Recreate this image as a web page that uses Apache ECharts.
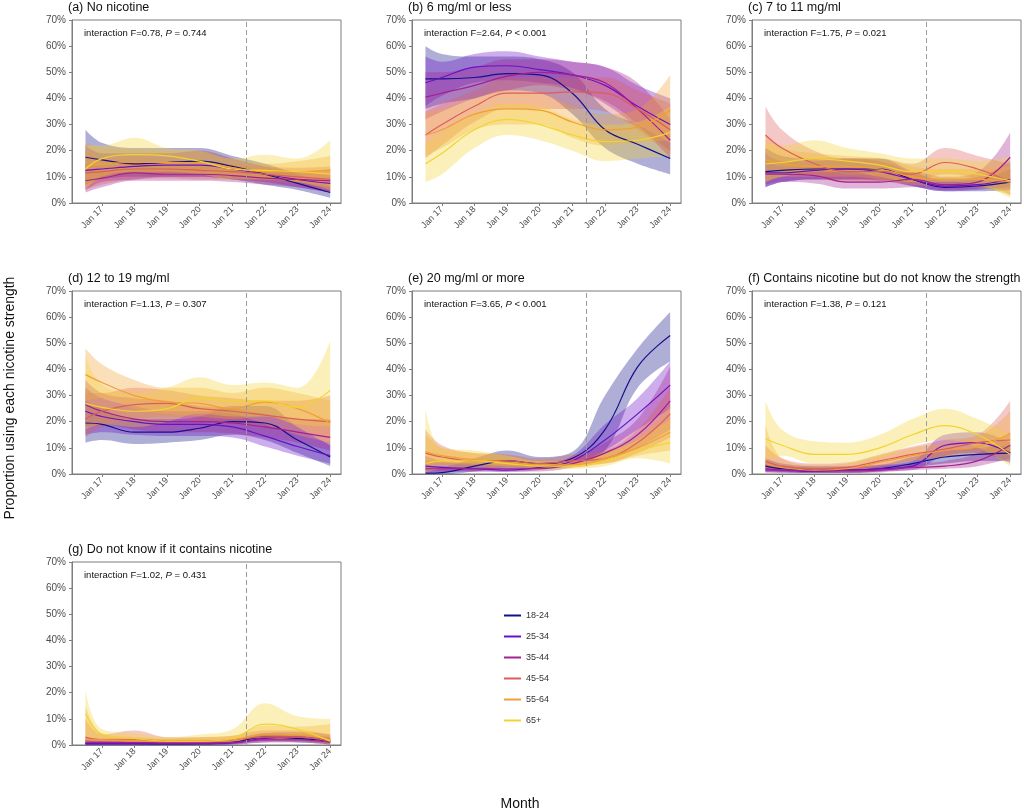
<!DOCTYPE html>
<html>
<head>
<meta charset="utf-8">
<script src="https://cdn.jsdelivr.net/npm/echarts@6/dist/echarts.min.js"></script>
<style>
html, body { margin: 0; padding: 0; background: #fff; }
#chart { width: 1024px; height: 812px; }
</style>
</head>
<body>
<div id="chart"></div>
<script>
// age groups and their colours
var ageGroups = ['18-24', '25-34', '35-44', '45-54', '55-64', '65+'];
var ageColors = ['#14118a', '#6b10c4', '#a3208f', '#dc5e5c', '#f0a033', '#f2d431'];

// x positions: months since Jan 2017
var monthPts = [-6, 0, 12, 24, 36, 48, 60, 72, 84];
var yearTicks = [0, 12, 24, 36, 48, 60, 72, 84];
var yearLabels = ['Jan 17', 'Jan 18', 'Jan 19', 'Jan 20', 'Jan 21', 'Jan 22', 'Jan 23', 'Jan 24'];
var policyMonth = 53;

// (a) No nicotine
var noNicEst = [
  [17.5, 16.5, 15, 15.5, 16, 14, 11, 7.5, 4],
  [12.5, 13, 14, 14.5, 14.5, 13, 11, 9, 7.5],
  [8.5, 9.5, 11.5, 11, 11, 10.5, 9.5, 9, 8.5],
  [11.5, 12, 13, 13, 12.5, 12, 11, 10, 9],
  [14, 15, 15.5, 15.5, 15.5, 13.5, 12, 12, 12.5],
  [13, 17, 18.5, 18, 16, 13, 12.5, 12, 11]
];
var noNicLo = [
  [7, 9, 10, 10, 10, 9, 7, 5, 2],
  [5, 8, 9, 10, 10, 9, 8, 6, 4],
  [4, 6, 8.5, 8.5, 8.5, 8, 7, 6, 4],
  [5, 7, 9, 9.5, 9, 9, 8, 7, 4.5],
  [6, 9, 11, 11, 11, 10, 9, 8, 6],
  [5, 10, 12, 12, 11, 9, 9, 8, 5]
];
var noNicHi = [
  [28, 23, 21, 21, 21, 18, 15, 11, 6.5],
  [22, 19, 19, 19, 20, 17, 14, 12, 11],
  [15, 14, 15, 14, 14, 13, 12, 12, 13],
  [20, 17, 17, 16.5, 16, 15, 14, 13.5, 14],
  [23, 21, 20.5, 20, 20, 17, 15, 16, 18],
  [22, 22, 25, 21, 20, 17, 18.5, 17, 24]
];

// (b) 6 mg/ml or less
var lowEst = [
  [47.5, 47.5, 48, 49.5, 49, 42, 28, 22.5, 17],
  [46, 48, 52, 52.5, 51, 49, 45, 37, 30],
  [40.5, 42, 45, 48.5, 50, 49, 46, 36, 24],
  [26, 30, 37, 42, 42, 42.5, 42, 36, 28],
  [26, 28, 34, 36, 35.5, 31, 28, 29, 35.5],
  [15, 19, 28, 32, 30, 26, 23.5, 24, 27]
];
var lowLo = [
  [36, 38, 40, 43, 42, 34, 21, 15, 11],
  [37, 41, 46, 47, 46, 44, 38, 29, 20],
  [32, 35, 40, 43, 45, 43, 39, 30, 17],
  [17, 22, 31, 36, 36, 36, 35, 28, 18],
  [18, 21, 28, 30, 30, 25, 22, 23, 24],
  [8, 11, 21, 26, 24, 20, 16, 17, 18]
];
var lowHi = [
  [60, 57, 56, 56, 55, 50, 36, 30, 23],
  [56, 54, 57, 58, 56, 54, 52, 45, 40],
  [50, 50, 52, 55, 55, 54, 52, 46, 32],
  [35, 38, 43, 48, 48, 48, 48, 43, 38],
  [35, 36, 40, 43, 42, 37, 34, 36, 49],
  [23, 27, 34, 38, 37, 32, 30, 31, 37]
];

// (c) 7 to 11 mg/ml
var midEst = [
  [12, 12.5, 13, 13, 13, 9, 6, 6.5, 8],
  [11.5, 11.5, 12.5, 13, 12, 9, 6.5, 7, 9],
  [11, 11, 10.5, 8, 8, 9, 7, 8, 17.5],
  [26, 21, 15, 12, 12, 11, 15.5, 13, 8],
  [16.5, 15, 14, 14, 13, 10, 9, 9, 8],
  [15, 15.5, 17, 16, 14.5, 12, 12.5, 11, 8.5]
];
var midLo = [
  [6, 8, 9, 9, 9, 6.5, 4.5, 4.5, 5],
  [6, 8, 9, 9, 8.5, 6.5, 4.5, 5, 6],
  [7, 8, 7.5, 5.5, 5.5, 6, 5, 5.5, 9],
  [17, 14, 10, 8, 8, 8, 11, 9, 3],
  [8, 10, 10, 10, 9, 7, 6.5, 6, 3],
  [8, 10, 12, 12, 10, 8, 8, 7, 2]
];
var midHi = [
  [21, 18, 17, 17, 17, 12, 8.5, 9, 13],
  [19, 16, 16, 17, 16, 12, 9, 10, 16],
  [16, 14, 14, 11, 11, 12, 10, 12, 27],
  [37, 28, 20, 17, 17, 15, 21, 18, 15],
  [26, 21, 19, 18, 17, 14, 13, 13, 14],
  [23, 22, 24, 21, 19, 17, 17, 16, 18]
];

// (d) 12 to 19 mg/ml
var highEst = [
  [19.5, 19, 16, 16, 17.5, 20, 19.5, 13, 6.5],
  [24, 22, 20, 19, 19, 18, 14.5, 10.5, 7],
  [26.5, 24, 21, 20, 20, 19.5, 18, 16, 14],
  [21, 24, 26.5, 27, 25, 24, 22.5, 21, 20],
  [38, 35, 30, 27.5, 27, 25, 27.5, 25, 19.5],
  [27, 25.5, 24, 25, 29, 28, 28, 25.5, 32]
];
var highLo = [
  [12, 13, 11.5, 12, 13, 15, 13, 8, 3],
  [15, 16, 15, 14.5, 14.5, 14, 10.5, 7, 4],
  [18, 19, 17, 16, 16, 15.5, 14, 12, 9],
  [14, 18, 21, 22, 20, 19.5, 18, 15, 12],
  [28, 29, 25, 23, 22, 21, 22, 18, 11],
  [17, 19, 18, 20, 23, 22, 22, 19, 18]
];
var highHi = [
  [28, 25, 21, 21, 22, 26, 26, 18, 11],
  [33, 29, 26, 24, 24, 23, 19, 15, 12],
  [36, 31, 29, 28, 26, 25, 23, 21, 21],
  [31, 31, 33, 32, 30, 29, 28, 28, 30],
  [48, 42, 36, 33, 33, 31, 33, 31, 28],
  [45, 34, 31, 33, 37, 34, 35, 33, 51]
];

// (e) 20 mg/ml or more
var topEst = [
  [0.3, 0.5, 3, 5, 4, 6, 17, 41, 53],
  [3, 2.5, 2, 1.5, 2.5, 5, 13, 23, 34],
  [2, 2, 2, 2, 2, 4, 8, 15, 28],
  [8, 6.5, 5, 5, 4, 5, 6, 12, 23],
  [8.5, 7, 5.5, 4.5, 3.5, 3.5, 6, 10, 16],
  [4, 5, 5, 4, 3, 3, 5, 9, 12]
];
var topLo = [
  [0, 0, 1, 2.5, 2, 3.5, 9, 33, 43],
  [1, 1, 1, 0.8, 1.5, 3.5, 9, 17, 25],
  [0.5, 0.8, 1, 1, 1, 2.5, 5, 10, 17],
  [3, 3.5, 3, 3, 2.5, 3.5, 4, 8, 14],
  [3, 4, 3.5, 3, 2.5, 2.5, 4, 7, 9],
  [0.5, 2, 2.5, 2, 1.5, 2, 3, 6, 4]
];
var topHi = [
  [3, 3, 6, 9, 6.5, 8.5, 30, 48, 62],
  [7, 5, 4, 3, 4, 7, 19, 29, 43],
  [5, 4.5, 4, 4, 3.5, 6, 12, 21, 41],
  [17, 11, 8, 7.5, 6, 7.5, 9, 17, 33],
  [15, 10, 8, 7, 5, 5, 8.5, 14, 26],
  [25, 10, 9, 7, 5, 5, 8, 13, 21]
];

// (f) Contains nicotine but strength unknown
var unkStrEst = [
  [3, 2, 1.5, 1.5, 2, 4, 6.5, 7.5, 8],
  [2, 1.5, 1, 1.5, 2, 3, 11, 12, 8],
  [1.5, 1.5, 1.2, 1.2, 1.5, 2.5, 3, 5, 11],
  [5, 3, 2, 2.5, 5, 7.5, 9.5, 12, 13],
  [4, 2.5, 1.5, 2, 4.5, 7, 9, 10.5, 15.5],
  [13.5, 11, 7.5, 7.5, 10, 15, 18.5, 15, 7.5]
];
var unkStrLo = [
  [1, 0.8, 0.5, 0.5, 1, 2.5, 4, 5, 5],
  [0.8, 0.5, 0.4, 0.5, 1, 1.5, 7, 8, 4],
  [0.5, 0.5, 0.4, 0.4, 0.6, 1.5, 2, 3, 6],
  [2, 1.5, 1, 1.2, 3, 5, 7, 9, 7],
  [1.5, 1.2, 0.8, 1, 3, 5, 6.5, 7.5, 9],
  [5, 7, 4, 4, 6, 11, 13, 10, 3]
];
var unkStrHi = [
  [6, 4, 3, 3, 3.5, 6.5, 9, 10, 11],
  [4.5, 3, 2, 2.5, 3.5, 5, 15, 16, 12],
  [3.5, 3, 2.5, 2.5, 3, 4, 5, 8, 16],
  [11, 6, 4, 4.5, 7.5, 10.5, 13, 15, 28],
  [19, 6, 3.5, 4, 7, 10, 12, 14, 24],
  [28, 17, 12.5, 12, 15, 21, 25, 21, 15]
];

// (g) Do not know if it contains nicotine
var unkNicEst = [
  [0.5, 0.5, 0.5, 0.4, 0.5, 1, 3, 2.5, 1.5],
  [0.5, 0.5, 0.5, 0.5, 0.5, 0.8, 2.5, 3, 1.5],
  [1, 1, 1, 0.8, 0.8, 1, 2, 2, 1],
  [3, 2, 2, 1.5, 1.5, 2, 3, 3, 1.5],
  [2, 2, 1.5, 1.5, 1.5, 2, 4, 4, 2],
  [12, 4, 2.5, 1.5, 1.5, 2.5, 8, 6, 1.5]
];
var unkNicLo = [
  [0, 0, 0, 0, 0, 0.3, 1.5, 1, 0.3],
  [0, 0, 0, 0, 0, 0.2, 1, 1.5, 0.3],
  [0.2, 0.3, 0.3, 0.2, 0.2, 0.3, 1, 1, 0.2],
  [0.5, 0.8, 0.8, 0.5, 0.5, 1, 1.5, 1.5, 0.3],
  [0.5, 1, 0.8, 0.8, 0.8, 1, 2, 2, 0.5],
  [3, 1.5, 1, 0.5, 0.5, 1, 4, 3, 0.3]
];
var unkNicHi = [
  [2, 1.5, 1.5, 1, 1, 2, 4.5, 4, 3],
  [2, 1.5, 1.5, 1.2, 1.2, 2, 4.5, 5, 4],
  [3, 2.5, 2.5, 2, 2, 2, 3.5, 3.5, 3],
  [10, 4, 5.5, 3, 3, 3.5, 5.5, 5.5, 4],
  [15, 4.5, 3, 2.5, 3, 3.5, 7.5, 7, 8],
  [21, 6, 4.5, 3, 4, 6, 16, 11, 10]
];

var panels = [
  {title: '(a) No nicotine', stat: 'F=0.78, ', p: ' = 0.744', est: noNicEst, lo: noNicLo, hi: noNicHi, left: 72, top: 20},
  {title: '(b) 6 mg/ml or less', stat: 'F=2.64, ', p: ' < 0.001', est: lowEst, lo: lowLo, hi: lowHi, left: 412, top: 20},
  {title: '(c) 7 to 11 mg/ml', stat: 'F=1.75, ', p: ' = 0.021', est: midEst, lo: midLo, hi: midHi, left: 752, top: 20},
  {title: '(d) 12 to 19 mg/ml', stat: 'F=1.13, ', p: ' = 0.307', est: highEst, lo: highLo, hi: highHi, left: 72, top: 291},
  {title: '(e) 20 mg/ml or more', stat: 'F=3.65, ', p: ' < 0.001', est: topEst, lo: topLo, hi: topHi, left: 412, top: 291},
  {title: '(f) Contains nicotine but do not know the strength', stat: 'F=1.38, ', p: ' = 0.121', est: unkStrEst, lo: unkStrLo, hi: unkStrHi, left: 752, top: 291},
  {title: '(g) Do not know if it contains nicotine', stat: 'F=1.02, ', p: ' = 0.431', est: unkNicEst, lo: unkNicLo, hi: unkNicHi, left: 72, top: 562}
];

var FONT = 'Liberation Sans, Arial, sans-serif';
var AXIS_GREY = '#7d7d7d';
var LABEL_GREY = '#4d4d4d';
var X_MIN = -11, X_MAX = 88;

// data sit on a hidden time axis (so the CI stacking works on y),
// the visible month axis carries the Jan ticks
function monthTime(m) { return Date.UTC(2017, m, 1); }

function pairs(vals) {
  return monthPts.map(function (m, i) { return [monthTime(m), vals[i]]; });
}

var grids = [], xAxes = [], yAxes = [], titles = [], series = [];

panels.forEach(function (pn, i) {
  grids.push({left: pn.left, top: pn.top, width: 269, height: 183,
    show: true, borderColor: AXIS_GREY, borderWidth: 1, backgroundColor: 'transparent'});

  // index 2i: data axis (hidden)
  xAxes.push({
    type: 'time', gridIndex: i, min: monthTime(X_MIN), max: monthTime(X_MAX), show: false
  });
  // index 2i+1: visible month axis
  xAxes.push({
    type: 'value', gridIndex: i, min: X_MIN, max: X_MAX, position: 'bottom',
    axisLine: {show: true, onZero: false, lineStyle: {color: AXIS_GREY}},
    axisTick: {show: true, length: 3, customValues: yearTicks, lineStyle: {color: AXIS_GREY}},
    axisLabel: {
      customValues: yearTicks, rotate: 45, margin: 5, fontSize: 9, color: LABEL_GREY, fontFamily: FONT,
      formatter: function (v) { return yearLabels[yearTicks.indexOf(v)]; }
    },
    splitLine: {show: false}
  });

  yAxes.push({
    type: 'value', gridIndex: i, min: 0, max: 70, interval: 10,
    axisLine: {show: true, onZero: false, lineStyle: {color: AXIS_GREY}},
    axisTick: {show: true, length: 3, lineStyle: {color: AXIS_GREY}},
    axisLabel: {formatter: '{value}%', fontSize: 10, color: LABEL_GREY, margin: 6, fontFamily: FONT},
    splitLine: {show: false}
  });

  titles.push({
    text: pn.title, left: pn.left - 4, top: pn.top - 19, padding: 0,
    textStyle: {fontSize: 12.5, fontWeight: 'normal', color: '#111', fontFamily: FONT}
  });
  titles.push({
    text: '{n|interaction ' + pn.stat + '}{i|P}{n|' + pn.p + '}',
    left: pn.left + 12, top: pn.top + 8, padding: 0,
    textStyle: {
      fontWeight: 'normal',
      rich: {
        n: {fontSize: 9.5, color: '#111', fontWeight: 'normal', fontFamily: FONT},
        i: {fontSize: 9.5, color: '#111', fontWeight: 'normal', fontStyle: 'italic', fontFamily: FONT}
      }
    }
  });

  ageGroups.forEach(function (g, k) {
    var col = ageColors[k];
    var stackId = 'ci_' + i + '_' + k;
    var width = pn.hi[k].map(function (h, j) { return h - pn.lo[k][j]; });

    series.push({
      type: 'line', name: g + ' lower', xAxisIndex: 2 * i, yAxisIndex: i, stack: stackId,
      data: pairs(pn.lo[k]), smooth: 0.4, showSymbol: false, symbol: 'none',
      lineStyle: {opacity: 0}, silent: true, z: 1
    });
    series.push({
      type: 'line', name: g + ' band', xAxisIndex: 2 * i, yAxisIndex: i, stack: stackId,
      data: pairs(width), smooth: 0.4, showSymbol: false, symbol: 'none',
      lineStyle: {opacity: 0}, areaStyle: {color: col, opacity: 0.34}, silent: true, z: 1
    });
    var line = {
      type: 'line', name: g, xAxisIndex: 2 * i, yAxisIndex: i, color: col,
      data: pairs(pn.est[k]), smooth: 0.4, showSymbol: false, symbol: 'none',
      lineStyle: {color: col, width: 1.2}, silent: true, z: 3
    };
    if (k === 0) {
      line.markLine = {
        silent: true, symbol: 'none', label: {show: false},
        lineStyle: {color: '#9a9a9a', type: [5, 3], width: 1},
        data: [{xAxis: monthTime(policyMonth)}]
      };
    }
    series.push(line);
  });
});

var myChart = echarts.init(document.getElementById('chart'));

var option = {
  backgroundColor: '#fff',
  animation: false,
  title: titles,
  grid: grids,
  xAxis: xAxes,
  yAxis: yAxes,
  legend: {
    data: ageGroups, orient: 'vertical', left: 499, top: 600,
    icon: 'rect', itemWidth: 17, itemHeight: 2, itemGap: 0,
    textStyle: {fontSize: 9, color: '#333', lineHeight: 21, fontFamily: FONT},
    selectedMode: false
  },
  graphic: [
    {type: 'text', x: 10, y: 398, rotation: Math.PI / 2,
      style: {text: 'Proportion using each nicotine strength', font: '14px ' + FONT, fill: '#111',
        align: 'center', verticalAlign: 'middle', textAlign: 'center', textVerticalAlign: 'middle'}},
    {type: 'text', x: 520, y: 804,
      style: {text: 'Month', font: '14px ' + FONT, fill: '#111',
        align: 'center', verticalAlign: 'middle', textAlign: 'center', textVerticalAlign: 'middle'}}
  ],
  series: series
};

myChart.setOption(option);
</script>
</body>
</html>
